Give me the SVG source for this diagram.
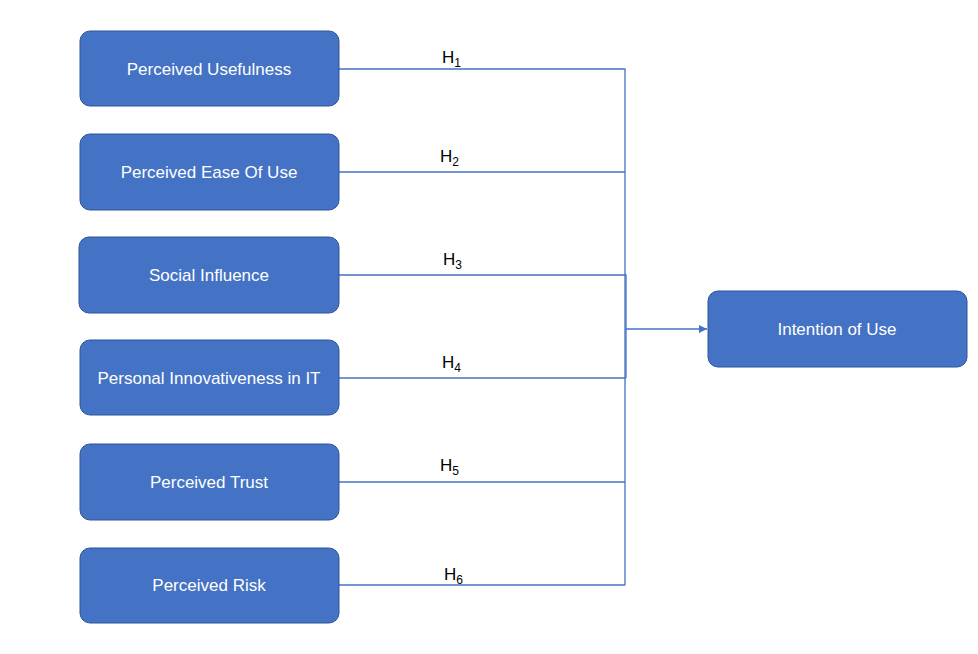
<svg xmlns="http://www.w3.org/2000/svg" width="978" height="654" viewBox="0 0 978 654">
  <defs>
    <style>
      .box { fill: #4472C4; stroke: #2F5597; stroke-width: 1; }
      .lbl { fill: #ffffff; font-family: "Liberation Sans", Arial, sans-serif; font-size: 17px; text-anchor: middle; dominant-baseline: central; }
      .hyp { fill: #000000; font-family: "Liberation Sans", Arial, sans-serif; font-size: 17px; }
      .sub { font-size: 12px; }
      .wire { fill: none; stroke: #4472C4; stroke-width: 1.3; }
    </style>
    <marker id="arrow" viewBox="0 0 10 10" refX="10" refY="5" markerWidth="8" markerHeight="8" orient="auto" markerUnits="userSpaceOnUse">
      <path d="M0,0 L10,5 L0,10 z" fill="#4472C4"/>
    </marker>
  </defs>
  <rect width="978" height="654" fill="#ffffff"/>

  <g id="connectors">
    <path class="wire" d="M339,69 H625 V585"/>
    <path class="wire" d="M339,172 H625"/>
    <path class="wire" d="M339,275 H626 V378"/>
    <path class="wire" d="M339,378 H626"/>
    <path class="wire" d="M339,482 H625"/>
    <path class="wire" d="M339,585 H625"/>
    <path class="wire" d="M626,329 H707" marker-end="url(#arrow)"/>
  </g>

  <g id="hypotheses">
    <text class="hyp" x="442" y="63">H<tspan class="sub" dy="4">1</tspan></text>
    <text class="hyp" x="440" y="162">H<tspan class="sub" dy="4">2</tspan></text>
    <text class="hyp" x="443" y="265">H<tspan class="sub" dy="4">3</tspan></text>
    <text class="hyp" x="442" y="368">H<tspan class="sub" dy="4">4</tspan></text>
    <text class="hyp" x="440" y="471">H<tspan class="sub" dy="4">5</tspan></text>
    <text class="hyp" x="444" y="580">H<tspan class="sub" dy="4">6</tspan></text>
  </g>

  <g id="perceived-usefulness">
    <rect class="box" x="80" y="31" width="259" height="75" rx="10"/>
    <text class="lbl" x="209" y="69">Perceived Usefulness</text>
  </g>
  <g id="perceived-ease-of-use">
    <rect class="box" x="80" y="134" width="259" height="76" rx="10"/>
    <text class="lbl" x="209" y="172">Perceived Ease Of Use</text>
  </g>
  <g id="social-influence">
    <rect class="box" x="79" y="237" width="260" height="76" rx="10"/>
    <text class="lbl" x="209" y="275">Social Influence</text>
  </g>
  <g id="personal-innovativeness">
    <rect class="box" x="80" y="340" width="259" height="75" rx="10"/>
    <text class="lbl" x="209" y="378">Personal Innovativeness in IT</text>
  </g>
  <g id="perceived-trust">
    <rect class="box" x="80" y="444" width="259" height="76" rx="10"/>
    <text class="lbl" x="209" y="482">Perceived Trust</text>
  </g>
  <g id="perceived-risk">
    <rect class="box" x="80" y="548" width="259" height="75" rx="10"/>
    <text class="lbl" x="209" y="585">Perceived Risk</text>
  </g>
  <g id="intention-of-use">
    <rect class="box" x="708" y="291" width="259" height="76" rx="10"/>
    <text class="lbl" x="837" y="329">Intention of Use</text>
  </g>
</svg>
